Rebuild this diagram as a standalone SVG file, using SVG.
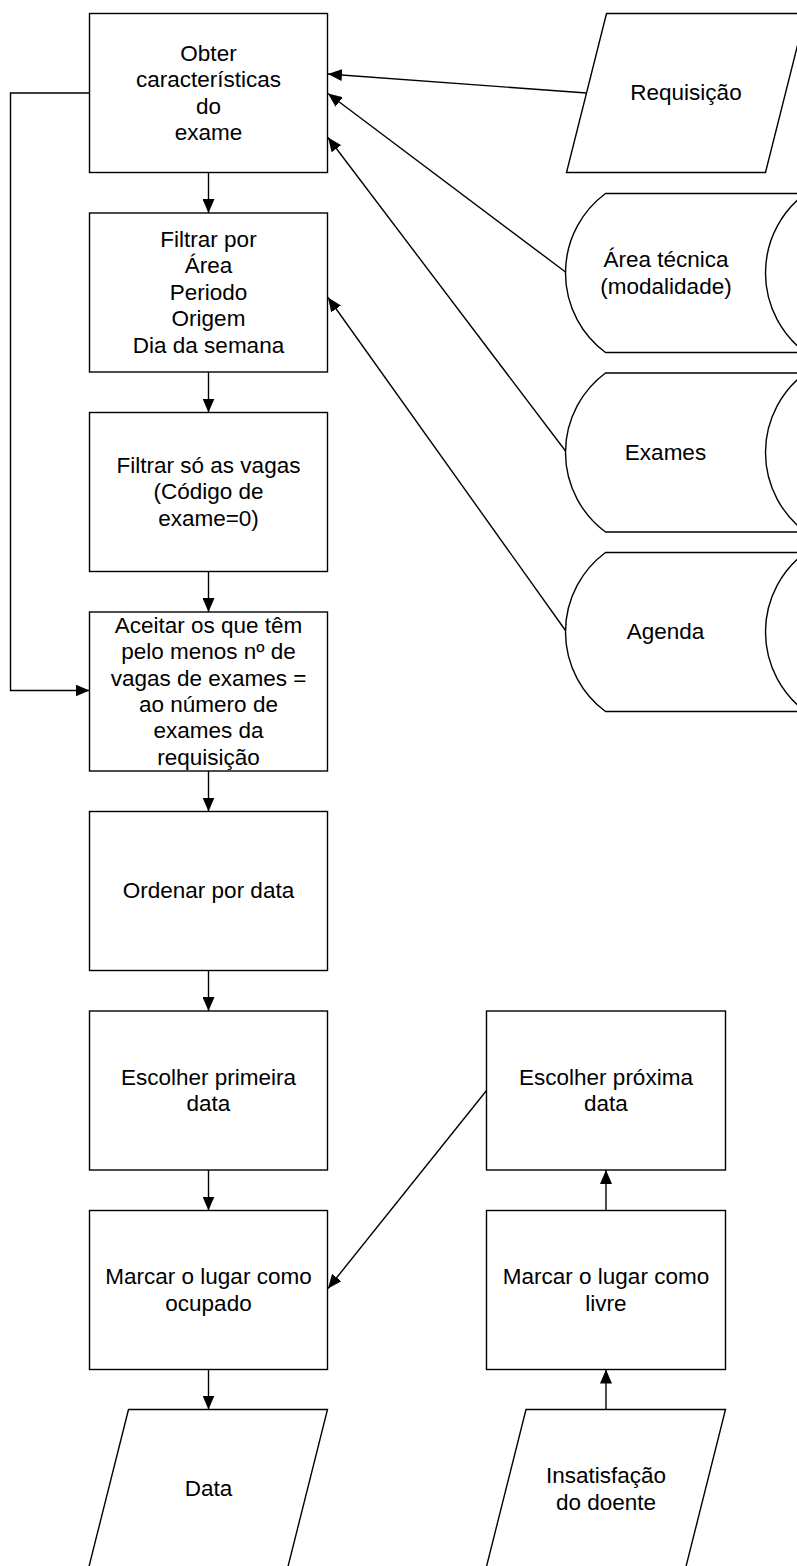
<svg xmlns="http://www.w3.org/2000/svg" width="797" height="1566" viewBox="0 0 797 1566">
  <style>
    .shape { fill: #ffffff; stroke: #000000; stroke-width: 1.4; }
    .conn { fill: none; stroke: #000000; stroke-width: 1.4; }
    text { font-family: "Liberation Sans", Arial, sans-serif; font-size: 22.5px; fill: #000000; text-anchor: middle; }
  </style>
  <defs>
    <marker id="arrow" viewBox="0 0 14 12" refX="14" refY="6" markerWidth="14" markerHeight="12" markerUnits="userSpaceOnUse" orient="auto">
      <path d="M0,0 L14,6 L0,12 Z" fill="#000000"/>
    </marker>
  </defs>
  <rect x="0" y="0" width="797" height="1566" fill="#ffffff"/>

  <!-- connectors -->
  <g id="connectors">
    <line class="conn" x1="208.5" y1="172.5" x2="208.5" y2="213" marker-end="url(#arrow)"/>
    <line class="conn" x1="208.5" y1="372" x2="208.5" y2="412.5" marker-end="url(#arrow)"/>
    <line class="conn" x1="208.5" y1="571.5" x2="208.5" y2="612" marker-end="url(#arrow)"/>
    <line class="conn" x1="208.5" y1="771" x2="208.5" y2="811.5" marker-end="url(#arrow)"/>
    <line class="conn" x1="208.5" y1="970.5" x2="208.5" y2="1011" marker-end="url(#arrow)"/>
    <line class="conn" x1="208.5" y1="1170" x2="208.5" y2="1210.5" marker-end="url(#arrow)"/>
    <line class="conn" x1="208.5" y1="1369.5" x2="208.5" y2="1409.5" marker-end="url(#arrow)"/>
    <polyline class="conn" points="89.5,93 10.5,93 10.5,690.5 89.5,690.5" marker-end="url(#arrow)"/>
    <line class="conn" x1="586.5" y1="93" x2="328" y2="74" marker-end="url(#arrow)"/>
    <line class="conn" x1="565.5" y1="272" x2="328" y2="93.5" marker-end="url(#arrow)"/>
    <line class="conn" x1="565.5" y1="451" x2="328" y2="137.5" marker-end="url(#arrow)"/>
    <line class="conn" x1="565.5" y1="630.5" x2="328" y2="297.5" marker-end="url(#arrow)"/>
    <line class="conn" x1="606" y1="1409.5" x2="606" y2="1369.5" marker-end="url(#arrow)"/>
    <line class="conn" x1="606" y1="1210.5" x2="606" y2="1170" marker-end="url(#arrow)"/>
    <line class="conn" x1="486.5" y1="1090.5" x2="328" y2="1288.5" marker-end="url(#arrow)"/>
  </g>

  <!-- process steps, left column -->
  <g id="obter">
    <rect class="shape" x="89.5" y="13.5" width="238" height="159"/>
    <text x="208.5" y="60.7">Obter</text>
    <text x="208.5" y="87.1">características</text>
    <text x="208.5" y="113.5">do</text>
    <text x="208.5" y="139.9">exame</text>
  </g>
  <g id="filtrar-por">
    <rect class="shape" x="89.5" y="213" width="238" height="159"/>
    <text x="208.5" y="247">Filtrar por</text>
    <text x="208.5" y="273.4">Área</text>
    <text x="208.5" y="299.8">Periodo</text>
    <text x="208.5" y="326.2">Origem</text>
    <text x="208.5" y="352.6">Dia da semana</text>
  </g>
  <g id="filtrar-vagas">
    <rect class="shape" x="89.5" y="412.5" width="238" height="159"/>
    <text x="208.5" y="472.9">Filtrar só as vagas</text>
    <text x="208.5" y="499.3">(Código de</text>
    <text x="208.5" y="525.7">exame=0)</text>
  </g>
  <g id="aceitar">
    <rect class="shape" x="89.5" y="612" width="238" height="159"/>
    <text x="208.5" y="632.8">Aceitar os que têm</text>
    <text x="208.5" y="659.2">pelo menos nº de</text>
    <text x="208.5" y="685.6">vagas de exames =</text>
    <text x="208.5" y="712">ao número de</text>
    <text x="208.5" y="738.4">exames da</text>
    <text x="208.5" y="764.8">requisição</text>
  </g>
  <g id="ordenar">
    <rect class="shape" x="89.5" y="811.5" width="238" height="159"/>
    <text x="208.5" y="898.3">Ordenar por data</text>
  </g>
  <g id="escolher-primeira">
    <rect class="shape" x="89.5" y="1011" width="238" height="159"/>
    <text x="208.5" y="1084.6">Escolher primeira</text>
    <text x="208.5" y="1111">data</text>
  </g>
  <g id="marcar-ocupado">
    <rect class="shape" x="89.5" y="1210.5" width="238" height="159"/>
    <text x="208.5" y="1284.1">Marcar o lugar como</text>
    <text x="208.5" y="1310.5">ocupado</text>
  </g>
  <g id="data">
    <polygon class="shape" points="128.5,1409.5 327.5,1409.5 287.5,1568.5 88.5,1568.5"/>
    <text x="208.5" y="1496.3">Data</text>
  </g>

  <!-- right column -->
  <g id="escolher-proxima">
    <rect class="shape" x="486.5" y="1011" width="239" height="159"/>
    <text x="606" y="1084.6">Escolher próxima</text>
    <text x="606" y="1111">data</text>
  </g>
  <g id="marcar-livre">
    <rect class="shape" x="486.5" y="1210.5" width="239" height="159"/>
    <text x="606" y="1284.1">Marcar o lugar como</text>
    <text x="606" y="1310.5">livre</text>
  </g>
  <g id="insatisfacao">
    <polygon class="shape" points="526,1409.5 725.5,1409.5 685.5,1568.5 486,1568.5"/>
    <text x="606" y="1483.1">Insatisfação</text>
    <text x="606" y="1509.5">do doente</text>
  </g>

  <!-- inputs and stored data -->
  <g id="requisicao">
    <polygon class="shape" points="606.5,13.5 805.5,13.5 765.5,172.5 566.5,172.5"/>
    <text x="686" y="100.3">Requisição</text>
  </g>
  <g id="area-tecnica">
    <path class="shape" d="M605.5,193.5 H805.5 A99,99 0 0,0 805.5,352.5 H605.5 A99,99 0 0,1 605.5,193.5 Z"/>
    <text x="666" y="267.1">Área técnica</text>
    <text x="666" y="293.5">(modalidade)</text>
  </g>
  <g id="exames">
    <path class="shape" d="M605.5,373 H805.5 A99,99 0 0,0 805.5,532 H605.5 A99,99 0 0,1 605.5,373 Z"/>
    <text x="665.5" y="459.8">Exames</text>
  </g>
  <g id="agenda">
    <path class="shape" d="M605.5,552.5 H805.5 A99,99 0 0,0 805.5,711.5 H605.5 A99,99 0 0,1 605.5,552.5 Z"/>
    <text x="665.5" y="639.3">Agenda</text>
  </g>
</svg>
